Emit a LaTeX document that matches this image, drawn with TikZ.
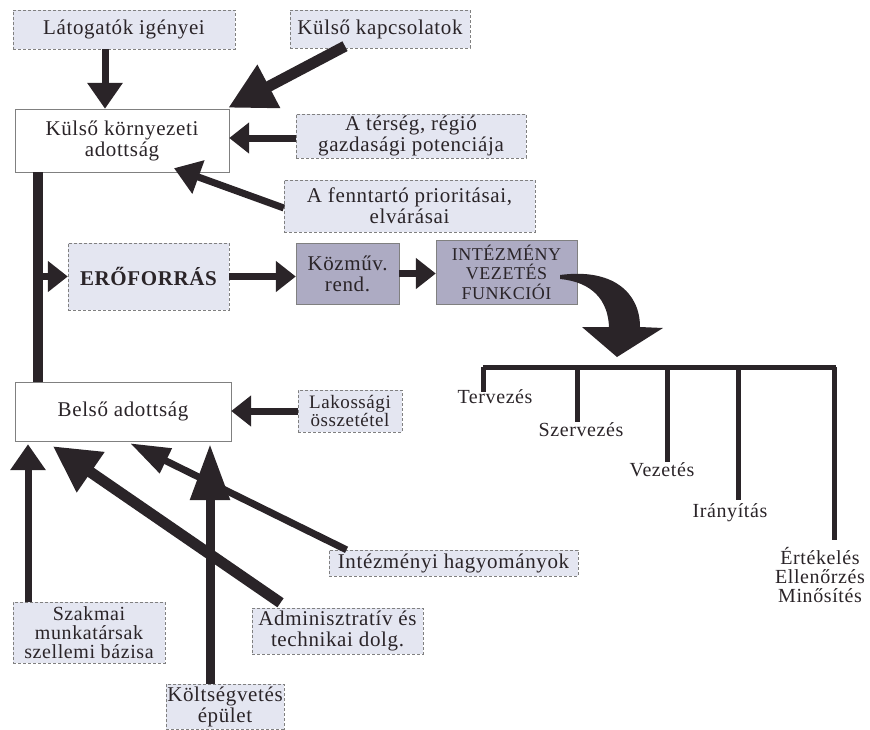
\documentclass[tikz,border=0pt]{standalone}
\usepackage{fontspec}
\setmainfont{Liberation Serif}[LetterSpace=3]
\usetikzlibrary{arrows.meta,calc}
\definecolor{boxlight}{HTML}{E4E6F1}
\definecolor{boxdark}{HTML}{ADABC3}
\definecolor{ink}{HTML}{2A2428}
\tikzset{
    box/.style={draw=black!50, densely dashed, thin, fill=boxlight, align=center, inner sep=1pt,
        font=\fontsize{21}{21}\selectfont, text=ink},
    plain/.style={box, fill=white, solid},
    dark/.style={box, fill=boxdark, solid},
    lbl/.style={align=center, font=\fontsize{20}{20}\selectfont, text=ink},
    pointer/.style={draw=ink, line width=7pt, -{Triangle[width=34pt,length=26pt]}},
    bigpointer/.style={draw=ink, line width=11pt, -{Triangle[width=46pt,length=46pt]}},
    shortpointer/.style={draw=ink, line width=7pt, -{Triangle[width=30pt,length=20pt]}},
}
\begin{document}
\begin{tikzpicture}[x=1pt,y=-1pt]
    \useasboundingbox (0,0) rectangle (870,729);
    % boxes
    \node[box, minimum width=222, minimum height=39] (lat) at (124,29.5) {Látogatók igényei};
    \node[box, minimum width=180, minimum height=38] (kap) at (380,29) {Külső kapcsolatok};
    \node[plain, minimum width=214, minimum height=63] (kulso) at (122,140.5) {Külső környezeti\\adottság};
    \node[box, minimum width=230, minimum height=44] (terseg) at (411,136) {A térség, régió\\gazdasági potenciája};
    \node[box, minimum width=251, minimum height=52] (fennt) at (409.5,206) {A fenntartó prioritásai,\\elvárásai};
    \node[box, minimum width=161, minimum height=67, font=\fontsize{21}{21}\selectfont\bfseries] (ero) at (148.5,276.5) {ERŐFORRÁS};
    \node[dark, minimum width=103, minimum height=61] (kozm) at (347.5,273.5) {Közműv.\\rend.};
    \node[dark, minimum width=141, minimum height=64, font=\fontsize{18}{19.5}\selectfont] (int) at (506.5,272) {INTÉZMÉNY\\VEZETÉS\\FUNKCIÓI};
    \node[plain, minimum width=216, minimum height=59] (belso) at (123,411.5) {Belső adottság};
    \node[box, minimum width=104, minimum height=42, font=\fontsize{19}{18}\selectfont] (lak) at (350,411) {Lakossági\\összetétel};
    \node[box, minimum width=249, minimum height=26] (hagy) at (453.5,563) {Intézményi hagyományok};
    \node[box, minimum width=152, minimum height=61, font=\fontsize{20}{19}\selectfont] (szak) at (89,632.5) {Szakmai\\munkatársak\\szellemi bázisa};
    \node[box, minimum width=171, minimum height=46] (adm) at (337.5,631) {Adminisztratív és\\technikai dolg.};
    \node[box, minimum width=116, minimum height=45] (kolt) at (225,706.5) {Költségvetés\\épület};
    % tree labels
    \node[lbl] (terv) at (495,397) {Tervezés};
    \node[lbl] (szerv) at (581,430) {Szervezés};
    \node[lbl] (vez) at (662,470) {Vezetés};
    \node[lbl] (iran) at (730,513) {Irányítás};
    \node[lbl, font=\fontsize{20}{19}\selectfont] (ert) at (820,575) {Értékelés\\Ellenőrzés\\Minősítés};
    % outer inputs
    \draw[pointer] ([xshift=-19pt]lat.south) -- ([xshift=-17pt]kulso.north);
    \draw[bigpointer] ([xshift=-35pt,yshift=2pt]kap.south) -- ([xshift=-1pt,yshift=1pt]kulso.north east);
    \draw[shortpointer] ([yshift=-2pt]terseg.west) -- ([yshift=-2pt]terseg.west -| kulso.east);
    \draw[pointer] ([yshift=-2pt]fennt.west) -- ([xshift=52pt,yshift=4pt]kulso.south);
    % trunk
    \coordinate (bartop) at ([xshift=-84pt]kulso.south);
    \draw[ink, line width=10pt] (bartop) -- (bartop |- belso.north);
    \draw[shortpointer] (bartop |- ero.west) -- (ero.west);
    \draw[shortpointer] (ero.east) -- (ero.east -| kozm.west);
    \draw[shortpointer] (kozm.east) -- (kozm.east -| int.west);
    % curved arrow
    \fill[ink] (560,275) .. controls (612,268) and (640,292) .. (640,327) -- (663,328) -- (617,357)
        -- (582,327) -- (609,327) .. controls (608,300) and (592,282) .. (560,279) -- cycle;
    % tree
    \coordinate (hub) at (483,367);
    \draw[ink, line width=5pt] (hub) -- (836,367);
    \foreach \x/\y in {483/392,577/422,667/462,738/500,834/540}
        \draw[ink, line width=5pt] (\x,367) -- (\x,\y);
    % inner inputs
    \draw[shortpointer] ([yshift=0pt]lak.west) -- (lak.west -| belso.east);
    \draw[pointer] ([xshift=-61pt]szak.north) -- ([xshift=-61pt,yshift=-3pt]szak.north |- belso.south);
    \draw[bigpointer] ([xshift=-57pt,yshift=5pt]adm.north) -- ([xshift=38pt,yshift=-5pt]belso.south west);
    \draw[draw=ink, line width=9pt, -{Triangle[width=38pt,length=56pt]}] ([xshift=-15pt]kolt.north) -- ([xshift=-15pt,yshift=-3pt]kolt.north |- belso.south);
    \draw[draw=ink, line width=7pt, -{Triangle[width=26pt,length=40pt]}] ([xshift=-107pt]hagy.north) -- ([xshift=7pt,yshift=-2pt]belso.south);
\end{tikzpicture}
\end{document}
